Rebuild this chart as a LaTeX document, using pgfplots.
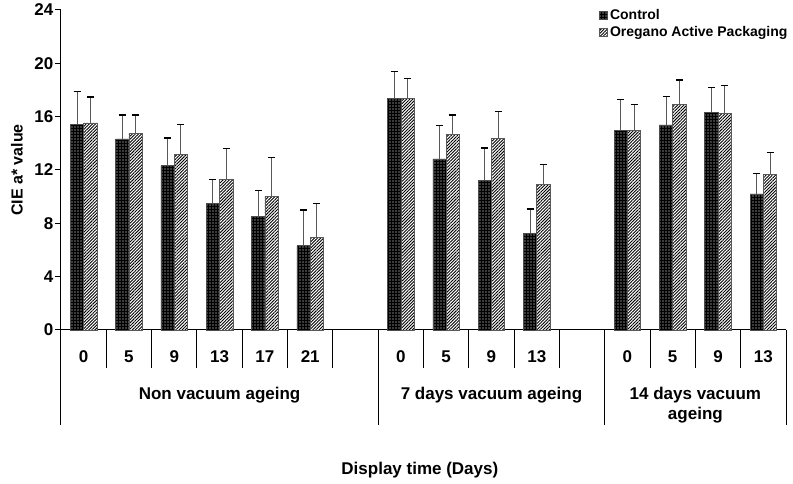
\documentclass[border=0pt]{standalone}
\usepackage{fontspec}
\setmainfont{Liberation Sans}
\usepackage{pgfplots}
\usepackage{pgfplotstable}
\pgfplotsset{compat=1.18}
\usetikzlibrary{patterns.meta}

\pgfplotstableread{
x c ce o oe
0 15.43 2.45 15.53 1.95
1 14.33 1.80 14.75 1.37
2 12.33 2.07 13.15 2.28
3 9.50 1.80 11.30 2.33
4 8.50 1.95 10.00 2.95
5 6.33 2.67 6.95 2.55
7 17.35 2.03 17.35 1.53
8 12.83 2.52 14.68 1.45
9 11.23 2.42 14.35 2.05
10 7.25 1.83 10.93 1.47
12 14.95 2.35 14.95 1.98
13 15.38 2.12 16.90 1.85
14 16.33 1.87 16.25 2.08
15 10.20 1.55 11.65 1.68
}\data

\newcommand\sep[2]{(axis cs:#1,0) -- ([yshift=-#2]axis cs:#1,0)}

\begin{document}
\begin{tikzpicture}
\path[use as bounding box] (0,0) rectangle (793pt,484pt);
\begin{axis}[
  at={(61pt,154pt)}, anchor=south west,
  scale only axis, width=725pt, height=320pt,
  ybar=0pt, bar width=13.3pt,
  xmin=-0.5, xmax=15.5, ymin=0, ymax=24,
  axis lines=left, axis line style={-, line width=1pt},
  clip=false,
  ytick={0,4,...,24},
  xtick={0,...,15},
  xticklabels={0,5,9,13,17,21,,0,5,9,13,,0,5,9,13},
  x tick style={draw=none},
  major tick length=6pt, tick align=outside,
  tick style={black, line width=1pt},
  /pgf/number format/assume math mode=true,
  tick label style={font=\bfseries\fontsize{17}{20}\selectfont},
  yticklabel style={inner xsep=1.5pt},
  xticklabel style={anchor=base, yshift=-27pt},
  ylabel={CIE a* value},
  ylabel style={at={(axis description cs:-0.0607,0.5)}, anchor=center, font=\bfseries\fontsize{16}{19}\selectfont},
  xlabel={Display time (Days)},
  xlabel style={at={(axis description cs:0.495,-0.4366)}, anchor=center, font=\bfseries\fontsize{17}{20}\selectfont},
  legend style={at={(1.005,1.008)}, anchor=north east, draw=none, fill=none,
    font=\bfseries\fontsize{14}{16}\selectfont, row sep=3pt, inner sep=0pt,
    nodes={inner xsep=2pt, inner ysep=1.5pt},
    cells={anchor=west}},
  legend image code/.code={\draw[#1] (0pt,-4pt) rectangle (8pt,4pt);},
  legend cell align=left,
]
\addplot[fill=black, draw=gray!60!black, line width=0.6pt,
  postaction={pattern={Dots[distance=3pt, radius=0.55pt]}, pattern color=white},
  error bars/.cd, y dir=plus, y explicit,
  error bar style={draw=gray!70!black, line width=1pt},
  error mark=|, error mark options={draw=black, mark size=3.5pt, line width=1.3pt}]
  table[x=x, y=c, y error=ce]{\data};
\addlegendentry{Control}
\addplot[fill=white, draw=gray!70!black, line width=0.6pt,
  postaction={pattern={Lines[angle=45, distance=2.2pt, line width=0.9pt]}, pattern color=black},
  error bars/.cd, y dir=plus, y explicit,
  error bar style={draw=gray!70!black, line width=1pt},
  error mark=|, error mark options={draw=black, mark size=3.5pt, line width=1.3pt}]
  table[x=x, y=o, y error=oe]{\data};
\addlegendentry{Oregano Active Packaging}

\draw[line width=1pt]
  \sep{0.5}{38pt} \sep{1.5}{38pt} \sep{2.5}{38pt} \sep{3.5}{38pt}
  \sep{4.5}{38pt} \sep{5.5}{38pt} \sep{7.5}{38pt} \sep{8.5}{38pt}
  \sep{9.5}{38pt} \sep{10.5}{38pt} \sep{12.5}{38pt} \sep{13.5}{38pt}
  \sep{14.5}{38pt}
  \sep{-0.5}{95pt} \sep{6.5}{95pt} \sep{11.5}{95pt} \sep{15.5}{95pt};
\begin{scope}[every node/.style={font=\bfseries\fontsize{17}{20}\selectfont, anchor=base}]
\node at (axis cs:3,0) [yshift=-70pt] {Non vacuum ageing};
\node at (axis cs:9,0) [yshift=-70pt] {7 days vacuum ageing};
\node at (axis cs:13.5,0) [yshift=-70pt] {14 days vacuum};
\node at (axis cs:13.5,0) [yshift=-89.5pt] {ageing};
\end{scope}
\end{axis}
\end{tikzpicture}
\end{document}
